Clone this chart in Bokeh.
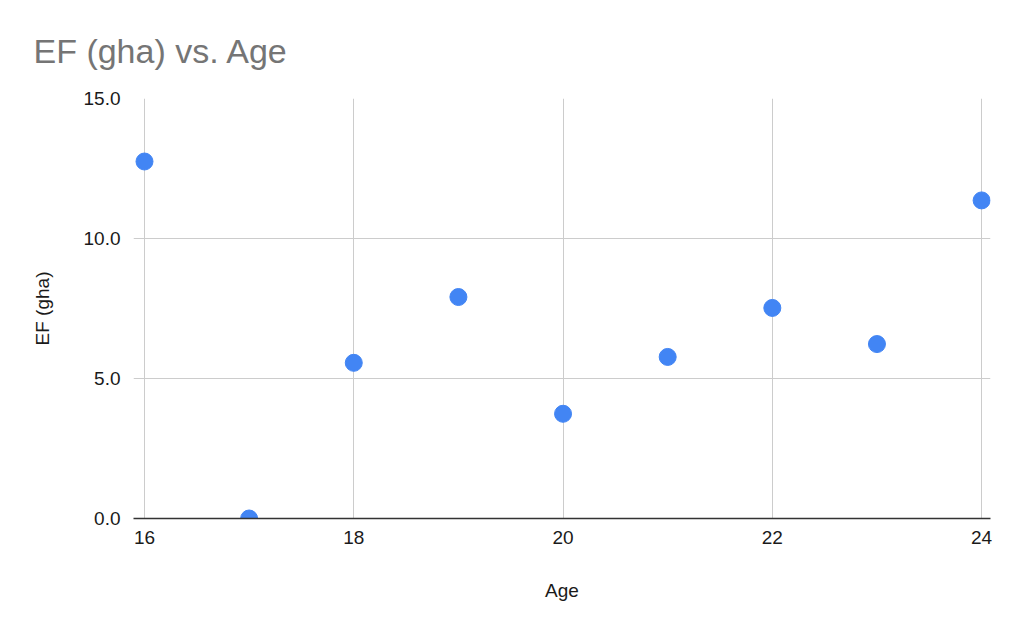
from bokeh.plotting import figure
from bokeh.models import ColumnDataSource, Range1d, FixedTicker, NumeralTickFormatter
from bokeh.embed import file_html
from bokeh.resources import INLINE

ages = [16, 17, 18, 19, 20, 21, 22, 23, 24]
ef_gha = [12.75, 0.0, 5.56, 7.91, 3.74, 5.77, 7.52, 6.23, 11.36]
x_ticks = [16, 18, 20, 22, 24]
y_ticks = [0, 5, 10, 15]

src = ColumnDataSource(dict(age=ages, ef=ef_gha))

p = figure(width=1008, height=617, output_backend="svg", toolbar_location=None,
           x_range=Range1d(15.895, 24.085), y_range=Range1d(0, 15),
           min_border_left=133, min_border_right=18, min_border_top=97,
           min_border_bottom=99, title="EF (gha) vs. Age")

p.title.text_font = "Liberation Sans"
p.title.text_font_size = "34px"
p.title.text_font_style = "normal"
p.title.text_color = "#757575"
p.title.offset = -100
p.title.standoff = 58

p.outline_line_color = None
p.background_fill_color = "white"
p.border_fill_color = "white"

p.scatter("age", "ef", source=src, size=17, color="#4285F4", line_color="#4285F4")

for ax in (p.xaxis[0], p.yaxis[0]):
    ax.major_label_text_font = "Liberation Sans"
    ax.major_label_text_font_size = "19px"
    ax.major_label_text_color = "#1a1a1a"
    ax.axis_label_text_font = "Liberation Sans"
    ax.axis_label_text_font_size = "19px"
    ax.axis_label_text_font_style = "normal"
    ax.axis_label_text_color = "#1a1a1a"
    ax.major_tick_line_color = None
    ax.minor_tick_line_color = None

p.xaxis.ticker = FixedTicker(ticks=x_ticks)
p.yaxis.ticker = FixedTicker(ticks=y_ticks)
p.yaxis.formatter = NumeralTickFormatter(format="0.0")
p.xaxis.axis_label = "Age"
p.yaxis.axis_label = "EF (gha)"
p.xaxis.axis_line_color = "#333333"
p.xaxis.axis_line_width = 1.5
p.yaxis.axis_line_color = None
p.xaxis.major_label_standoff = 6
p.yaxis.major_label_standoff = 7
p.xaxis.axis_label_standoff = 33
p.yaxis.axis_label_standoff = 28

p.xgrid.ticker = FixedTicker(ticks=x_ticks)
p.ygrid.ticker = FixedTicker(ticks=y_ticks)
p.xgrid.grid_line_color = "#cccccc"
p.ygrid.grid_line_color = "#cccccc"

open("out.html", "w").write(file_html(p, INLINE))
